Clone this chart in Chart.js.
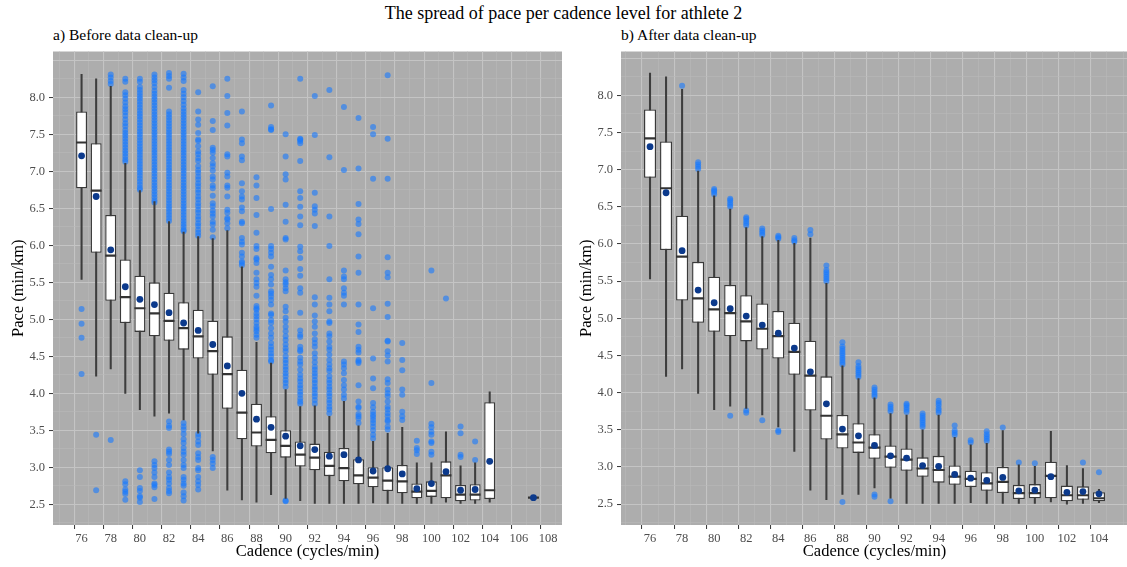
<!DOCTYPE html>
<html>
<head>
<meta charset="utf-8">
<title>Pace per cadence</title>
<script src="https://cdn.jsdelivr.net/npm/chart.js@4.4.1/dist/chart.umd.min.js"></script>
<style>
  body { margin: 0; width: 1127px; height: 567px; overflow: hidden; background: #fff; position: relative;
         font-family: "Liberation Serif", "Times New Roman", serif; }
  #title { position: absolute; top: 3px; left: 0; width: 1127px; text-align: center; font-size: 18px; color: #000; }
  .sub { position: absolute; top: 26px; font-size: 15.5px; color: #000; }
  .wrap { position: absolute; top: 40px; height: 527px; }
</style>
</head>
<body>
<div id="title">The spread of pace per cadence level for athlete 2</div>
<div class="sub" style="left:53px">a) Before data clean-up</div>
<div class="sub" style="left:621px">b) After data clean-up</div>
<div class="wrap" style="left:0; width:566px"><canvas id="before"></canvas></div>
<div class="wrap" style="left:568px; width:564px"><canvas id="after"></canvas></div>

<script>
// ---- a) before clean-up ----
const cadBefore = [76,77,78,79,80,81,82,83,84,85,86,87,88,89,90,91,92,93,94,95,96,97,98,99,100,101,102,103,104,107];
const loBefore   = [5.54,4.23,4.33,4.00,3.78,3.69,3.73,3.64,3.46,3.22,2.69,2.56,2.53,2.63,2.58,2.55,2.51,2.51,2.51,2.51,2.52,2.51,2.51,2.51,2.51,2.53,2.51,2.51,2.53,2.59];
const q1Before   = [6.77,5.90,5.25,4.95,4.83,4.77,4.71,4.59,4.47,4.25,3.79,3.38,3.28,3.19,3.13,3.01,2.96,2.88,2.81,2.77,2.73,2.68,2.65,2.58,2.60,2.58,2.54,2.55,2.57,2.585];
const medBefore  = [7.39,6.74,5.86,5.30,5.15,5.08,4.98,4.88,4.77,4.57,4.26,3.74,3.47,3.37,3.29,3.17,3.13,3.02,2.99,2.89,2.86,2.82,2.81,2.67,2.68,2.89,2.63,2.63,2.69,2.59];
const q3Before   = [7.81,7.38,6.41,5.81,5.59,5.50,5.36,5.23,5.13,4.98,4.77,4.32,3.86,3.69,3.50,3.35,3.32,3.21,3.26,3.11,3.00,3.00,3.03,2.78,2.81,3.08,2.76,2.77,3.88,2.595];
const hiBefore   = [8.31,8.25,8.15,7.11,6.74,6.59,6.32,6.18,6.12,6.09,6.20,5.71,4.69,4.41,4.05,3.82,3.83,3.69,3.89,3.56,3.35,3.46,3.54,3.06,3.06,3.48,3.02,3.06,4.02,2.59];
const meanBefore = [7.21,6.66,5.94,5.44,5.27,5.20,5.09,4.95,4.85,4.66,4.37,4.00,3.65,3.54,3.42,3.29,3.24,3.15,3.17,3.10,2.95,2.98,2.91,2.71,2.78,2.94,2.69,2.70,3.08,2.59];
const outBefore = [
  [5.14,4.94,4.75,4.26],
  [3.44,2.69],
  [8.31,8.27,8.22,8.18,3.37],
  [8.25,8.21,8.07,8.03,7.98,7.93,7.88,7.84,7.80,7.75,7.70,7.65,7.61,7.56,7.52,7.48,7.44,7.40,7.36,7.32,7.28,7.24,7.20,7.16,7.13,
   2.81,2.77,2.70,2.67,2.64,2.56],
  [8.25,8.21,8.14,8.10,8.06,8.02,7.98,7.94,7.90,7.86,7.82,7.78,7.74,7.70,7.66,7.62,7.58,7.54,7.50,7.46,7.42,7.38,7.34,7.30,7.26,
   7.22,7.18,7.14,7.10,7.06,7.02,6.98,6.94,6.90,6.86,6.82,6.78,6.75,2.96,2.87,2.72,2.68,2.61,2.59,2.53],
  [8.31,8.27,8.23,8.19,8.14,8.09,8.05,8.01,7.97,7.93,7.89,7.85,7.81,7.77,7.73,7.69,7.65,7.61,7.57,7.53,7.49,7.45,7.41,7.37,7.33,
   7.29,7.25,7.21,7.17,7.13,7.09,7.05,7.01,6.97,6.93,6.89,6.85,6.81,6.77,6.73,6.69,6.65,6.61,6.58,
   3.08,3.03,2.99,2.93,2.87,2.78,2.76,2.73,2.57],
  [8.33,8.29,8.25,8.13,7.81,7.77,7.73,7.69,7.65,7.61,7.57,7.53,7.49,7.45,7.41,7.37,7.33,7.29,7.25,7.21,7.17,7.13,7.09,7.05,7.01,
   6.97,6.93,6.89,6.85,6.81,6.77,6.73,6.69,6.65,6.61,6.57,6.53,6.49,6.45,6.41,6.37,6.33,
   3.62,3.56,3.53,3.24,3.21,3.18,3.10,3.03,2.93,2.87,2.83,2.78,2.72,2.68,2.65],
  [8.32,8.27,8.22,8.10,8.05,8.00,7.95,7.90,7.85,7.81,7.77,7.73,7.69,7.65,7.61,7.57,7.53,7.49,7.45,7.41,7.37,7.33,7.29,7.25,7.21,
   7.17,7.13,7.09,7.05,7.01,6.97,6.93,6.89,6.85,6.81,6.77,6.73,6.69,6.65,6.61,6.57,6.53,6.49,6.45,6.41,6.37,6.33,6.29,6.25,6.21,6.19,
   3.60,3.55,3.51,3.45,3.38,3.33,3.26,3.21,3.17,3.10,3.03,2.99,2.87,2.83,2.78,2.75,2.66,2.61,2.55],
  [8.07,7.81,7.70,7.63,7.52,7.43,7.41,7.34,7.27,7.23,7.18,7.14,7.07,7.02,6.98,6.93,6.89,6.84,6.80,6.75,6.71,6.66,6.62,6.57,6.53,
   6.48,6.44,6.39,6.35,6.30,6.26,6.21,6.17,6.13,3.45,3.41,3.35,3.30,3.19,3.14,3.10,2.99,2.96,2.87,2.81,2.76,2.70],
  [8.15,7.68,7.56,7.32,7.29,7.25,7.18,7.11,7.07,7.01,6.93,6.89,6.81,6.77,6.67,6.57,6.53,6.47,6.43,6.39,6.32,6.28,6.21,6.11,
   3.14,3.10,3.05,2.99],
  [8.25,8.02,7.79,7.62,7.23,7.20,6.98,6.93,6.81,6.78,6.66,6.48,6.44,6.37,6.35,6.30,6.23],
  [7.81,7.43,7.38,7.20,7.15,6.84,6.73,6.66,6.62,6.51,6.46,6.32,6.30,6.10,6.05,6.01,5.90,5.85,5.78,5.76,5.73],
  [6.92,6.81,6.64,6.41,6.17,5.99,5.95,5.83,5.81,5.76,5.63,5.54,5.49,5.44,5.32,5.18,5.15,5.13,5.08,5.04,5.00,4.95,4.90,4.87,4.84,
   4.79,4.75],
  [7.89,7.60,7.57,7.56,6.49,5.99,5.95,5.90,5.85,5.71,5.60,5.54,5.47,5.38,5.35,5.31,5.26,5.20,5.08,5.06,4.99,4.95,4.88,4.81,4.75,
   4.68,4.63,4.59,4.54,4.50,4.45,4.43],
  [7.50,7.20,6.96,6.89,6.55,6.32,6.10,6.08,5.66,5.54,5.50,5.47,5.42,5.38,5.17,5.11,5.02,4.97,4.90,4.84,4.77,4.72,4.66,4.61,4.57,
   4.50,4.45,4.41,4.36,4.32,4.27,4.23,4.18,4.14,4.09,2.55,2.54],
  [8.25,7.44,7.43,7.41,7.38,7.14,6.73,6.64,6.52,6.39,6.27,5.98,5.92,5.83,5.68,5.59,5.42,5.36,5.09,4.85,4.79,4.76,4.63,4.59,4.57,
   4.48,4.43,4.39,4.32,4.25,4.20,4.16,4.11,4.07,4.02,3.98,3.93,3.89,3.86],
  [8.02,7.49,6.71,6.53,6.48,6.43,6.26,5.30,5.20,5.05,4.97,4.90,4.81,4.73,4.68,4.63,4.54,4.48,4.42,4.36,4.32,4.27,4.23,4.18,4.14,
   4.09,4.05,4.00,3.96,3.91,3.86],
  [8.10,7.19,6.39,5.99,5.54,5.29,5.20,5.11,4.97,4.95,4.81,4.77,4.70,4.63,4.59,4.52,4.45,4.39,4.34,4.30,4.23,4.18,4.14,4.09,4.05,
   4.00,3.96,3.91,3.87,3.82,3.78,3.73],
  [7.87,7.02,5.66,5.58,5.54,5.42,5.36,5.32,5.20,4.43,4.39,4.34,4.27,4.18,4.11,4.05,3.98,3.93],
  [7.72,7.04,6.56,6.35,6.29,6.15,5.85,5.63,5.20,4.93,4.83,4.63,4.59,4.55,4.45,4.43,4.41,4.11,3.89,3.82,3.80,3.72,3.69,3.66,3.60],
  [7.60,7.50,6.90,5.15,4.47,4.20,4.07,3.87,3.81,3.75,3.71,3.68,3.64,3.60,3.55,3.50,3.44,3.39],
  [8.30,7.44,6.90,5.84,5.63,5.57,5.21,5.03,4.71,4.70,4.57,4.51,4.43,4.19,4.14,4.05,4.00,3.96,3.89,3.82,3.78,3.73,3.69,3.64,3.62,
   3.55,3.51],
  [4.68,4.45,4.31,4.05,3.98,3.75,3.69,3.64],
  [3.36,3.26,3.23,3.18],
  [5.66,4.14,3.59,3.54,3.48,3.44,3.35,3.33,3.21,3.17],
  [5.28],
  [3.55,3.46,3.17,3.14],
  [3.35,3.10],
  [],
  []
];

// ---- b) after clean-up ----
const cadAfter = [76,77,78,79,80,81,82,83,84,85,86,87,88,89,90,91,92,93,94,95,96,97,98,99,100,101,102,103,104];
const loAfter   = [5.53,4.22,4.32,3.99,3.77,3.82,3.79,3.70,3.54,3.21,2.69,2.56,2.63,2.63,2.72,2.58,2.51,2.51,2.51,2.51,2.52,2.51,2.51,2.51,2.51,2.53,2.50,2.51,2.52];
const q1After   = [6.89,5.92,5.24,4.94,4.82,4.76,4.69,4.58,4.46,4.24,3.76,3.37,3.25,3.19,3.11,2.99,2.95,2.87,2.79,2.76,2.73,2.68,2.65,2.57,2.58,2.58,2.54,2.56,2.54];
const medAfter  = [7.42,6.75,5.83,5.27,5.12,5.07,4.96,4.86,4.76,4.55,4.23,3.69,3.44,3.33,3.26,3.14,3.10,2.98,2.96,2.87,2.84,2.78,2.80,2.65,2.65,2.88,2.62,2.62,2.58];
const q3After   = [7.81,7.38,6.38,5.76,5.56,5.45,5.31,5.20,5.10,4.94,4.70,4.22,3.70,3.59,3.44,3.29,3.25,3.13,3.15,3.02,2.95,2.93,3.00,2.76,2.77,3.07,2.75,2.74,2.66];
const hiAfter   = [8.30,8.25,8.08,6.98,6.65,6.47,6.22,6.10,6.05,6.01,6.08,5.47,4.36,4.19,3.93,3.72,3.70,3.50,3.70,3.40,3.30,3.32,3.49,3.03,3.01,3.48,3.02,2.98,2.70];
const meanAfter = [7.31,6.69,5.91,5.38,5.21,5.13,5.03,4.91,4.80,4.60,4.28,3.85,3.51,3.42,3.29,3.15,3.12,3.02,3.01,2.90,2.85,2.82,2.86,2.68,2.69,2.87,2.66,2.67,2.64];
const outAfter = [
  [], [], [8.13],
  [7.01,7.04,7.07,7.10],
  [6.67,6.70,6.72,6.74],
  [6.50,6.53,6.56,6.59,6.61,3.69],
  [6.25,6.28,6.31,6.34,6.36,3.76,3.73],
  [6.12,6.15,6.18,6.21,3.63],
  [6.07,6.09,6.11,3.49,3.47],
  [6.03,6.05,6.08],
  [6.13,6.19],
  [5.50,5.53,5.56,5.59,5.62,5.65,5.71],
  [4.38,4.41,4.44,4.47,4.50,4.53,4.56,4.59,4.62,4.68,2.53],
  [4.21,4.24,4.27,4.30,4.33,4.36,4.41],
  [3.95,3.98,4.01,4.04,4.07,2.63,2.60],
  [3.75,3.78,3.81,3.84,2.54],
  [3.74,3.77,3.80,3.83,3.85],
  [3.54,3.57,3.60,3.63,3.66,3.69,3.72],
  [3.73,3.76,3.79,3.83,3.86,3.89],
  [3.43,3.46,3.49,3.56],
  [3.33,3.36],
  [3.35,3.38,3.41,3.44,3.48],
  [3.53], [3.06], [3.05], [], [], [3.06], [2.93]
];

// axis ticks: every integer / quarter, labels on the even / half ones
const xTicksBefore = [75,76,77,78,79,80,81,82,83,84,85,86,87,88,89,90,91,92,93,94,95,96,97,98,99,100,101,102,103,104,105,106,107,108];
const xTicksAfter  = [75,76,77,78,79,80,81,82,83,84,85,86,87,88,89,90,91,92,93,94,95,96,97,98,99,100,101,102,103,104,105];
const yTicks = [2.25,2.5,2.75,3,3.25,3.5,3.75,4,4.25,4.5,4.75,5,5.25,5.5,5.75,6,6.25,6.5,6.75,7,7.25,7.5,7.75,8,8.25,8.5];

Chart.defaults.font.family = "'Liberation Serif', 'Times New Roman', serif";

const panelBg = {
  id: 'panelBg',
  beforeDraw(chart) {
    const { ctx, chartArea: a } = chart;
    ctx.save();
    ctx.fillStyle = '#adadad';
    ctx.fillRect(a.left, a.top, a.width, a.height);
    ctx.restore();
  }
};

const isHalf = v => Math.abs(v * 2 - Math.round(v * 2)) < 1e-6;
const isEven = v => Math.round(v) % 2 === 0;
// the border options also resolve through these, without a tick
const tickVal = c => (c.tick ? c.tick.value : NaN);

// half the box width in pixels, so the median stroke spans the box
const halfBox = c => {
  const s = c.chart.scales.x;
  return Math.abs(s.getPixelForValue(1) - s.getPixelForValue(0)) * 0.375;
};

function drawPanel(id, cad, lo, q1, med, q3, hi, mean, outl, xr, yr, xTicks) {
  const pts = [];
  outl.forEach((list, i) => list.forEach(v => pts.push({ x: cad[i], y: v })));

  new Chart(document.getElementById(id), {
    type: 'bar',
    data: {
      datasets: [
        {
          type: 'scatter', label: 'outliers', order: 5,
          data: pts,
          pointRadius: 3, pointBorderWidth: 0,
          pointBackgroundColor: 'rgba(24,122,255,0.6)'
        },
        {
          label: 'whiskers', order: 4, grouped: false,
          data: cad.map((x, i) => ({ x, y: [lo[i], hi[i]] })),
          backgroundColor: '#3d3d3d', barThickness: 1.4
        },
        {
          label: 'boxes', order: 3, grouped: false,
          data: cad.map((x, i) => ({ x, y: [q1[i], q3[i]] })),
          backgroundColor: '#ffffff', borderColor: '#3a3a3a', borderWidth: 1.3,
          borderSkipped: false, barPercentage: 1, categoryPercentage: 0.75
        },
        {
          type: 'scatter', label: 'median', order: 2,
          data: cad.map((x, i) => ({ x, y: med[i] })),
          pointStyle: 'line', pointRadius: halfBox,
          pointBorderColor: '#333333', pointBorderWidth: 2.2
        },
        {
          type: 'scatter', label: 'mean', order: 1,
          data: cad.map((x, i) => ({ x, y: mean[i] })),
          pointRadius: 3.4, pointBorderWidth: 0,
          pointBackgroundColor: '#0c3a8c'
        }
      ]
    },
    options: {
      responsive: true,
      maintainAspectRatio: false,
      animation: false,
      events: [],
      layout: { padding: { top: 0, right: 2, left: 0, bottom: 0 } },
      plugins: { legend: { display: false }, tooltip: { enabled: false } },
      scales: {
        x: {
          type: 'linear', offset: false, min: xr[0], max: xr[1],
          afterBuildTicks: s => { s.ticks = xTicks.map(v => ({ value: v })); },
          afterFit: s => { s.height = 42; },
          ticks: {
            autoSkip: false, maxRotation: 0, padding: 2,
            color: '#4d4d4d', font: { size: 12.5 },
            callback: v => (isEven(v) ? String(v) : '')
          },
          grid: {
            color: c => (isEven(tickVal(c)) ? '#c4c4c4' : '#b9b9b9'),
            lineWidth: c => (isEven(tickVal(c)) ? 1.1 : 0.6),
            tickColor: c => (isEven(tickVal(c)) ? '#333333' : 'rgba(0,0,0,0)'),
            tickLength: 4, tickWidth: 1
          },
          border: { display: false, color: 'rgba(0,0,0,0)' },
          title: {
            display: true, text: 'Cadence (cycles/min)', color: '#000',
            font: { size: 16.5 }, padding: { top: 0, bottom: 5 }
          }
        },
        y: {
          min: yr[0], max: yr[1],
          afterBuildTicks: s => { s.ticks = yTicks.map(v => ({ value: v })); },
          afterFit: s => { s.width = 53; },
          ticks: {
            autoSkip: false, padding: 4,
            color: '#4d4d4d', font: { size: 12.5 },
            callback: v => (isHalf(v) && v <= 8 ? v.toFixed(1) : '')
          },
          grid: {
            color: c => (isHalf(tickVal(c)) ? '#c4c4c4' : '#b9b9b9'),
            lineWidth: c => (isHalf(tickVal(c)) ? 1.1 : 0.6),
            tickColor: c => (isHalf(tickVal(c)) && tickVal(c) <= 8 ? '#333333' : 'rgba(0,0,0,0)'),
            tickLength: 4, tickWidth: 1
          },
          border: { display: false, color: 'rgba(0,0,0,0)' },
          title: {
            display: true, text: 'Pace (min/km)', color: '#000',
            font: { size: 16.5 }, padding: { top: 9, bottom: 0 }
          }
        }
      }
    },
    plugins: [panelBg]
  });
}

drawPanel('before', cadBefore, loBefore, q1Before, medBefore, q3Before, hiBefore, meanBefore, outBefore,
  [74.04, 108.96], [2.22, 8.62], xTicksBefore);
drawPanel('after', cadAfter, loAfter, q1After, medAfter, q3After, hiAfter, meanAfter, outAfter,
  [74.19, 105.81], [2.22, 8.59], xTicksAfter);
</script>
</body>
</html>
